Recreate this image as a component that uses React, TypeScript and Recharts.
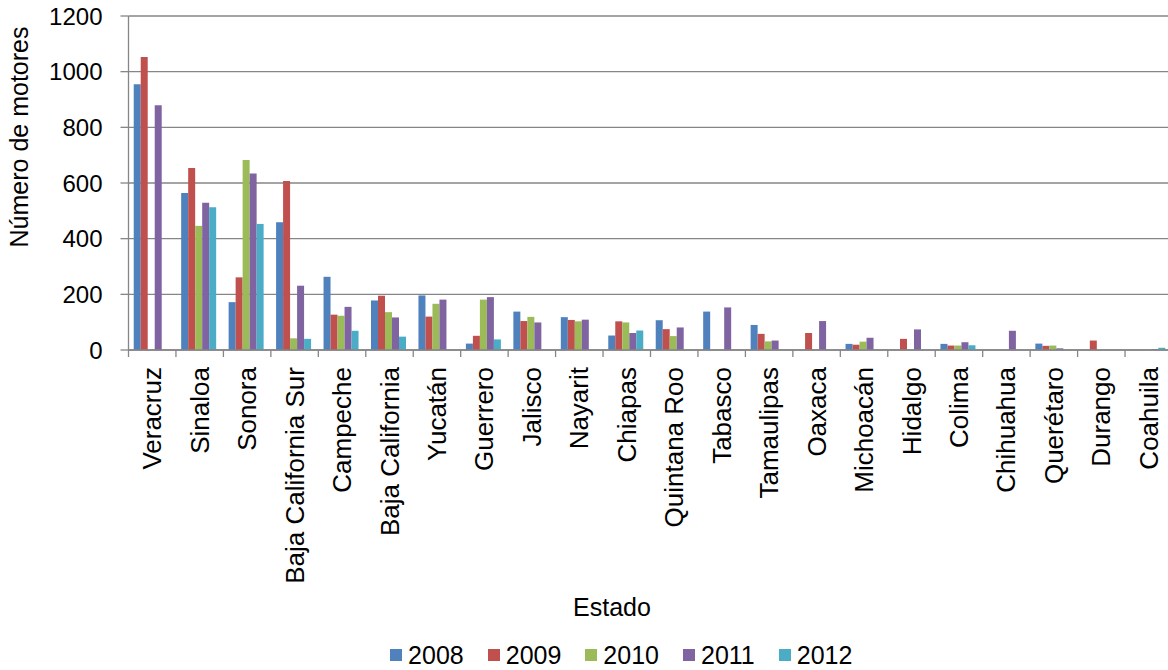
import { Bar, BarChart, CartesianGrid, Legend, XAxis, YAxis } from 'recharts';

const ESTADOS = [
  'Veracruz', 'Sinaloa', 'Sonora', 'Baja California Sur', 'Campeche', 'Baja California',
  'Yucatán', 'Guerrero', 'Jalisco', 'Nayarit', 'Chiapas', 'Quintana Roo', 'Tabasco',
  'Tamaulipas', 'Oaxaca', 'Michoacán', 'Hidalgo', 'Colima', 'Chihuahua', 'Querétaro',
  'Durango', 'Coahuila',
];

const Y2008 = [955, 564, 172, 459, 263, 178, 196, 23, 138, 118, 52, 107, 138, 90, null, 22, null, 22, null, 23, null, null];
const Y2009 = [1053, 654, 261, 607, 127, 195, 120, 51, 104, 108, 103, 75, null, 58, 61, 19, 40, 16, null, 15, 34, null];
const Y2010 = [null, 446, 683, 42, 123, 136, 166, 181, 119, 103, 99, 50, null, 31, null, 30, null, 16, null, 16, null, null];
const Y2011 = [879, 529, 634, 231, 155, 117, 181, 190, 99, 109, 61, 81, 153, 34, 104, 44, 74, 28, 69, 6, null, 3];
const Y2012 = [null, 513, 453, 40, 69, 48, null, 38, null, null, 70, null, null, null, null, null, null, 17, null, null, null, 8];

const YEARS = ['2008', '2009', '2010', '2011', '2012'];
const SERIES = [Y2008, Y2009, Y2010, Y2011, Y2012];
const COLORS = ['#4F81BD', '#C0504D', '#9BBB59', '#8064A2', '#4BACC6'];
const Y_TICKS = [0, 200, 400, 600, 800, 1000, 1200];

const data = ESTADOS.map((estado, i) => {
  const row: Record<string, string | number | null> = { estado };
  YEARS.forEach((y, s) => {
    row[y] = SERIES[s][i];
  });
  return row;
});

const FONT = '"Liberation Sans", Arial, sans-serif';
const AXIS = '#868686';
const PLOT_BOTTOM = 350;
const HALF_BAND = 1044 / ESTADOS.length / 2;

function EstadoTick(props: any) {
  const { x, payload } = props;
  const bx = x - HALF_BAND;
  return (
    <g>
      <line x1={bx} y1={PLOT_BOTTOM} x2={bx} y2={PLOT_BOTTOM + 7} stroke={AXIS} strokeWidth={1.3} />
      <text
        x={x}
        y={PLOT_BOTTOM + 17}
        transform={`rotate(-90, ${x}, ${PLOT_BOTTOM + 17})`}
        textAnchor="end"
        dominantBaseline="central"
        fontSize={26}
        fill="#000"
        fontFamily={FONT}
      >
        {payload.value}
      </text>
    </g>
  );
}

function LegendBox() {
  return (
    <div
      style={{
        display: 'flex',
        justifyContent: 'center',
        gap: 24,
        paddingLeft: 70,
        height: 30,
        alignItems: 'center',
        fontFamily: FONT,
        fontSize: 25,
        color: '#000',
      }}
    >
      {YEARS.map((y, i) => (
        <div key={y} style={{ display: 'flex', alignItems: 'center' }}>
          <span style={{ width: 12, height: 12, background: COLORS[i], marginRight: 6, display: 'inline-block' }} />
          <span>{y}</span>
        </div>
      ))}
    </div>
  );
}

export default function App() {
  return (
    <div
      style={{
        position: 'absolute',
        left: 0,
        top: 0,
        width: 1168,
        height: 670,
        overflow: 'hidden',
        background: '#fff',
        fontFamily: FONT,
      }}
    >
      <BarChart
        width={1176}
        height={670}
        data={data}
        margin={{ top: 16, right: 3.5, left: 0, bottom: 0 }}
        barCategoryGap="11%"
        barGap={0}
      >
        <CartesianGrid vertical={false} stroke={AXIS} strokeWidth={1.3} />
        <XAxis
          dataKey="estado"
          interval={0}
          height={290}
          tickLine={false}
          axisLine={{ stroke: AXIS, strokeWidth: 1.3 }}
          tick={<EstadoTick />}
          label={{
            content: () => (
              <text x={612} y={607} textAnchor="middle" dominantBaseline="central" fontSize={25} fontFamily={FONT} fill="#000">
                Estado
              </text>
            ),
          }}
        />
        <YAxis
          width={128.5}
          domain={[0, 1200]}
          ticks={Y_TICKS}
          interval={0}
          tickSize={8}
          tickMargin={18}
          tickLine={{ stroke: AXIS, strokeWidth: 1.3 }}
          axisLine={{ stroke: AXIS, strokeWidth: 1.3 }}
          tick={{ fontSize: 24, fill: '#000', fontFamily: FONT }}
          label={{
            content: () => (
              <text
                x={19}
                y={137}
                transform="rotate(-90, 19, 137)"
                textAnchor="middle"
                dominantBaseline="central"
                fontSize={25}
                fontFamily={FONT}
                fill="#000"
              >
                Número de motores
              </text>
            ),
          }}
        />
        <Legend verticalAlign="bottom" content={<LegendBox />} wrapperStyle={{ height: 30 }} />
        {YEARS.map((y, i) => (
          <Bar key={y} dataKey={y} name={y} fill={COLORS[i]} isAnimationActive={false} />
        ))}
      </BarChart>
    </div>
  );
}
